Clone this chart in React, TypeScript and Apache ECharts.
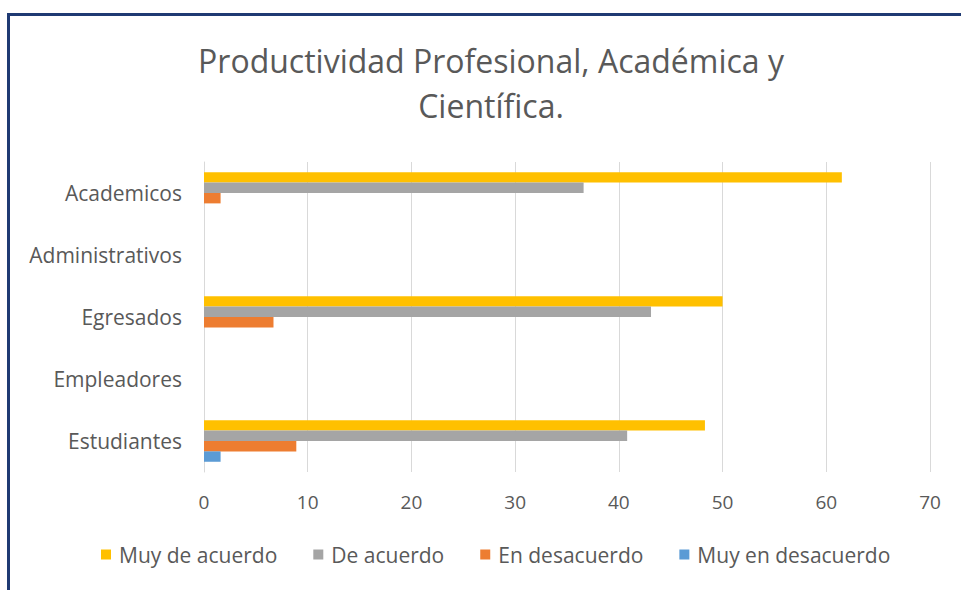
import React, { useEffect, useRef } from "react";
import * as echarts from "echarts";

const categories = ["Academicos", "Administrativos", "Egresados", "Empleadores", "Estudiantes"];
const seriesNames = ["Muy de acuerdo", "De acuerdo", "En desacuerdo", "Muy en desacuerdo"];
const muyDeAcuerdo = [61.5, 0, 50.0, 0, 48.3];
const deAcuerdo = [36.6, 0, 43.1, 0, 40.8];
const enDesacuerdo = [1.6, 0, 6.7, 0, 8.9];
const muyEnDesacuerdo = [0, 0, 0, 0, 1.6];
const xTicks = { min: 0, max: 70, interval: 10 };
const colors = ["#FFC000", "#A5A5A5", "#ED7D31", "#5B9BD5"];

export default function App() {
  const ref = useRef<HTMLDivElement>(null);
  useEffect(() => {
    if (!ref.current) return;
    const chart = echarts.init(ref.current, undefined, { renderer: "svg" });
    const font = "'Open Sans', 'Noto Sans', sans-serif";
    const dataSets = [muyDeAcuerdo, deAcuerdo, enDesacuerdo, muyEnDesacuerdo];
    chart.setOption({
      animation: false,
      backgroundColor: "#ffffff",
      title: {
        text: "Productividad Profesional, Académica y\nCientífica.",
        left: 486,
        top: 33,
        textAlign: "center",
        textStyle: {
          fontFamily: font,
          fontSize: 32,
          fontWeight: "normal",
          color: "#595959",
          lineHeight: 45,
        },
      },
      legend: {
        data: seriesNames,
        top: 544,
        left: 101,
        itemWidth: 10,
        itemHeight: 10,
        itemGap: 36,
        padding: 0,
        icon: "rect",
        textStyle: { fontFamily: font, fontSize: 21, color: "#595959", padding: [0, 0, 0, 3] },
      },
      grid: { left: 204, right: 31, top: 162, bottom: 118, containLabel: false },
      xAxis: {
        type: "value",
        min: xTicks.min,
        max: xTicks.max,
        interval: xTicks.interval,
        axisLine: { show: false },
        axisTick: { show: false },
        splitLine: { lineStyle: { color: "#D9D9D9", width: 1 } },
        axisLabel: { fontFamily: font, fontSize: 19, color: "#595959", margin: 20 },
      },
      yAxis: {
        type: "category",
        data: categories,
        inverse: true,
        axisLine: { show: true, lineStyle: { color: "#D9D9D9" } },
        axisTick: { show: false },
        axisLabel: { fontFamily: font, fontSize: 21, color: "#595959", margin: 22 },
      },
      graphic: [
        {
          type: "line",
          shape: { x1: 8.5, y1: 14.5, x2: 961, y2: 14.5 },
          style: { stroke: "#1F3A73", lineWidth: 3 },
        },
        {
          type: "line",
          shape: { x1: 8.5, y1: 13, x2: 8.5, y2: 590 },
          style: { stroke: "#1F3A73", lineWidth: 3 },
        },
      ],
      series: seriesNames.map((name, i) => ({
        name,
        type: "bar",
        data: dataSets[i],
        barGap: "0%",
        barCategoryGap: "33%",
        itemStyle: { color: colors[i] },
      })),
    });
    return () => chart.dispose();
  }, []);
  return (
    <div
      ref={ref}
      style={{ position: "absolute", left: 0, top: 0, width: 961, height: 590 }}
    />
  );
}
